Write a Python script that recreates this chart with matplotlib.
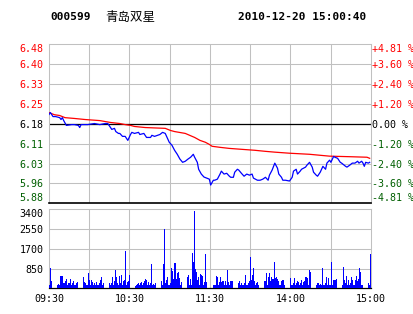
import numpy as np
import matplotlib.pyplot as plt

plt.rcParams['font.family'] = ['DejaVu Sans Mono', 'Noto Sans CJK SC']

# header text
code = "000599"
name = "青岛双星"
stamp = "2010-12-20 15:00:40"
prev_close = 6.18

# minute index (0 = 09:30, 241 = 15:00) and last price
price_min = [0, 1, 3, 5, 8, 9, 10, 11, 13, 17, 19, 22, 23, 24, 29, 34, 38, 42, 44, 46,
             47, 49, 50, 52, 53, 55, 57, 59, 61, 62, 64, 67, 68, 71, 73, 76, 77, 79, 83, 85,
             87, 88, 90, 92, 94, 96, 98, 100, 102, 104, 106, 108, 109, 111, 112, 114, 116, 118, 120, 121,
             123, 124, 126, 128, 129, 131, 133, 135, 136, 138, 139, 141, 142, 144, 146, 148, 150, 152, 153, 156,
             158, 160, 162, 164, 165, 167, 169, 171, 172, 174, 175, 177, 180, 182, 183, 185, 186, 188, 189, 192,
             193, 195, 197, 198, 200, 201, 203, 204, 205, 207, 208, 210, 211, 213, 214, 216, 218, 219, 222, 223,
             225, 227, 229, 231, 232, 234, 235, 236, 237, 239, 240]
price = [6.215, 6.222, 6.207, 6.207, 6.203, 6.196, 6.203, 6.192, 6.174, 6.177, 6.177, 6.174, 6.166, 6.177, 6.177, 6.181, 6.177, 6.181, 6.181, 6.166,
         6.159, 6.163, 6.151, 6.144, 6.144, 6.133, 6.133, 6.118, 6.140, 6.148, 6.144, 6.148, 6.140, 6.144, 6.129, 6.129, 6.137, 6.133, 6.140, 6.148,
         6.144, 6.133, 6.111, 6.100, 6.081, 6.066, 6.048, 6.036, 6.040, 6.048, 6.055, 6.066, 6.055, 6.036, 6.010, 5.992, 5.981, 5.977, 5.973, 5.951,
         5.969, 5.969, 5.973, 5.992, 6.003, 5.992, 5.995, 5.984, 5.980, 5.980, 5.999, 6.010, 6.007, 5.995, 5.984, 5.992, 5.988, 5.992, 5.977, 5.969,
         5.969, 5.973, 5.980, 5.969, 5.988, 6.007, 6.033, 6.014, 5.992, 5.980, 5.969, 5.969, 5.966, 5.980, 6.003, 6.010, 5.992, 6.003, 6.010, 6.018,
         6.025, 6.036, 6.018, 5.999, 5.988, 5.984, 5.999, 6.010, 6.021, 6.010, 6.033, 6.044, 6.036, 6.058, 6.055, 6.051, 6.036, 6.033, 6.021, 6.018,
         6.025, 6.033, 6.033, 6.040, 6.033, 6.040, 6.033, 6.021, 6.036, 6.033, 6.036]

# average price line
avg_min = [0, 2, 4, 8, 12, 19, 27, 38, 46, 53, 57, 61, 64, 72, 87, 91, 94, 102, 109, 113,
           117, 120, 122, 128, 135, 143, 154, 162, 169, 180, 195, 210, 225, 238, 240]
avg_price = [6.222, 6.218, 6.214, 6.211, 6.203, 6.200, 6.196, 6.192, 6.185, 6.181, 6.177, 6.174, 6.170, 6.166, 6.163, 6.155, 6.151, 6.144, 6.129, 6.118,
             6.111, 6.103, 6.096, 6.092, 6.088, 6.085, 6.081, 6.077, 6.074, 6.070, 6.066, 6.059, 6.057, 6.055, 6.051]

# volume bars, left to right
volume = [140, 860, 320, 140, 530, 140, 530, 140, 190, 140, 530, 530, 530, 215, 245, 320, 415, 140, 215, 245,
          400, 140, 245, 320, 140, 140, 245, 285, 300, 430, 430, 500, 500, 285, 215, 140, 140, 645, 360, 140,
          360, 285, 140, 215, 140, 285, 140, 140, 215, 360, 500, 140, 215, 960, 530, 140, 245, 215, 140, 215,
          475, 140, 320, 790, 500, 215, 140, 530, 215, 575, 140, 320, 360, 1610, 140, 285, 320, 575, 140, 140,
          615, 140, 100, 140, 170, 215, 140, 245, 285, 140, 215, 320, 385, 360, 140, 285, 140, 215, 1050, 140,
          190, 140, 245, 115, 140, 190, 245, 320, 140, 1030, 2550, 245, 360, 500, 140, 140, 215, 860, 745, 385,
          1075, 1075, 385, 645, 690, 460, 140, 285, 360, 140, 430, 330, 500, 575, 140, 385, 140, 1505, 1150, 3330,
          820, 715, 360, 500, 140, 615, 575, 530, 140, 285, 1480, 285, 245, 140, 140, 140, 285, 140, 140, 140,
          530, 475, 140, 285, 500, 285, 320, 320, 140, 320, 140, 790, 285, 140, 320, 320, 320, 140, 140, 500,
          140, 245, 320, 140, 215, 140, 140, 215, 575, 140, 140, 245, 320, 1365, 360, 575, 890, 320, 140, 215,
          285, 140, 140, 320, 575, 140, 320, 320, 645, 140, 500, 675, 320, 500, 385, 385, 1150, 430, 500, 385,
          320, 140, 140, 320, 360, 360, 140, 215, 215, 140, 140, 430, 140, 140, 215, 430, 140, 215, 330, 285,
          140, 215, 360, 140, 285, 320, 475, 475, 430, 140, 790, 715, 215, 140, 245, 285, 140, 245, 245, 140,
          190, 140, 860, 140, 140, 215, 475, 140, 460, 140, 140, 1135, 140, 360, 360, 360, 385, 140, 245, 320,
          245, 140, 935, 360, 215, 530, 140, 360, 140, 215, 500, 360, 140, 140, 360, 530, 320, 385, 860, 715,
          140, 140, 860, 1050, 1050, 140, 215, 140, 1480]

price_labels = ["6.48", "6.40", "6.33", "6.25", "6.18", "6.11", "6.03", "5.96", "5.88"]
pct_labels = ["+4.81 %", "+3.60 %", "+2.40 %", "+1.20 %", "0.00 %",
              "-1.20 %", "-2.40 %", "-3.60 %", "-4.81 %"]
vol_ticks = [850, 1700, 2550, 3400]
time_labels = ["09:30", "10:30", "11:30", "14:00", "15:00"]

RED = "#ff0000"
GREEN = "#005f00"
GRID = "#c0c0c0"
span = 241
limit = 0.0481

fig = plt.figure(figsize=(4.14, 3.14), dpi=100)
fig.patch.set_facecolor("white")

# price panel
ax = fig.add_axes([49 / 414, 1 - 203.3 / 314, 322 / 414, 159 / 314])
levels = prev_close * (1 + limit * np.arange(4, -5, -1) / 4)
ax.set_xlim(0, span)
ax.set_ylim(levels[-1], levels[0])
for lv in levels[1:-1]:
    ax.axhline(lv, color=GRID, lw=0.75, zorder=1)
for k in range(1, 8):
    ax.axvline(span / 8 * k, color=GRID, lw=0.75, zorder=1)
ax.axhline(prev_close, color="black", lw=0.9, zorder=2)
ax.plot(avg_min, avg_price, color=RED, lw=0.9, zorder=3)
ax.plot(price_min, price, color="#0000ff", lw=0.9, zorder=4)
for s in ["top", "left", "right"]:
    ax.spines[s].set_color(GRID)
    ax.spines[s].set_linewidth(0.75)
ax.spines["bottom"].set_color("black")
ax.spines["bottom"].set_linewidth(1.2)
ax.set_xticks([])
ax.set_yticks(levels)
ax.set_yticklabels(price_labels, fontsize=7.2)
ax.tick_params(axis="y", length=0, pad=4)

ax2 = ax.twinx()
ax2.set_ylim(ax.get_ylim())
ax2.set_yticks(levels)
ax2.set_yticklabels(pct_labels, fontsize=7.2)
ax2.tick_params(axis="y", length=0, pad=0.5)
for s in ax2.spines.values():
    s.set_visible(False)

for i, (l1, l2) in enumerate(zip(ax.get_yticklabels(), ax2.get_yticklabels())):
    c = RED if i < 4 else ("black" if i == 4 else GREEN)
    l1.set_color(c)
    l2.set_color(c)
    if i == 0:
        l1.set_va("top"); l2.set_va("top")
    elif i == 8:
        l1.set_va("bottom"); l2.set_va("bottom")

# volume panel
axv = fig.add_axes([49 / 414, 1 - 288.3 / 314, 322 / 414, 79 / 314])
xs = np.linspace(0.6, span - 0.6, len(volume))
axv.bar(xs, volume, width=0.8 * span / len(volume), color="#0000ff",
        linewidth=0, zorder=3)
axv.set_xlim(0, span)
axv.set_ylim(0, 3400)
for v in vol_ticks[:-1]:
    axv.axhline(v, color=GRID, lw=0.75, zorder=1)
for k in range(1, 8):
    axv.axvline(span / 8 * k, color=GRID, lw=0.75, zorder=1)
for s in ["top", "left", "right"]:
    axv.spines[s].set_color(GRID)
    axv.spines[s].set_linewidth(0.75)
axv.spines["bottom"].set_color("black")
axv.spines["bottom"].set_linewidth(0.9)
axv.set_yticks(vol_ticks)
axv.set_yticklabels([str(v) for v in vol_ticks], fontsize=7.2)
axv.get_yticklabels()[-1].set_va("top")
axv.tick_params(axis="y", length=0, pad=4)
axv.set_xticks(np.arange(5) * span / 4)
axv.set_xticklabels(time_labels, fontsize=7.2)
axv.tick_params(axis="x", length=0, pad=4)

# header
fig.text(50 / 414, 1 - 17 / 314, code, fontsize=8, fontweight="bold", va="center")
fig.text(105 / 414, 1 - 17 / 314, name, fontsize=9, va="center",
         family=["Noto Sans CJK SC", "DejaVu Sans"])
fig.text(238 / 414, 1 - 17 / 314, stamp, fontsize=8, fontweight="bold", va="center")

fig.savefig("out.png", dpi=100, facecolor="white")
